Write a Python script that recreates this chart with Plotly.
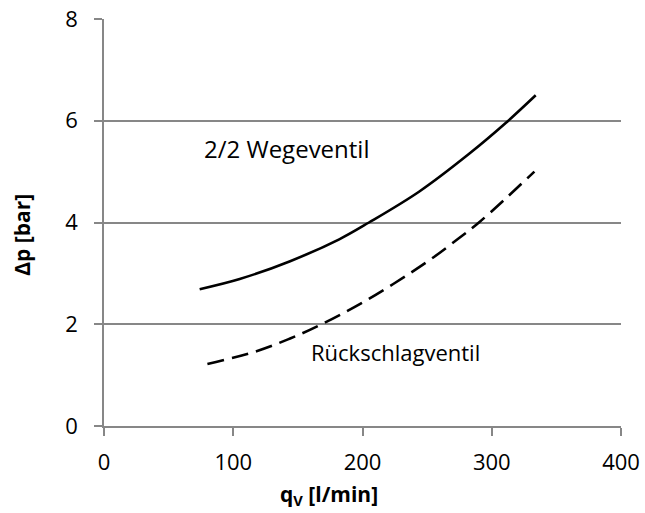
import plotly.graph_objects as go

# Data
q_wegeventil = [74, 105, 144, 182, 205, 244, 283, 311, 334]
dp_wegeventil = [2.69, 2.89, 3.24, 3.67, 4.00, 4.61, 5.36, 5.96, 6.50]

q_rueckschlag = [80, 118, 144, 166, 203, 249, 274, 291, 333]
dp_rueckschlag = [1.22, 1.47, 1.72, 1.97, 2.47, 3.21, 3.68, 4.02, 5.00]

x_ticks = [0, 100, 200, 300, 400]
y_ticks = [0, 2, 4, 6, 8]

label_wege = "2/2 Wegeventil"
label_rueck = "Rückschlagventil"
x_title = "<b>q<sub>V</sub> [l/min]</b>"
y_title = "<b>Δp [bar]</b>"

FONT = "Open Sans"
GRAY = "#878787"

fig = go.Figure()
fig.add_trace(go.Scatter(
    x=q_wegeventil, y=dp_wegeventil, mode="lines",
    line=dict(color="black", width=2.6, shape="spline", smoothing=1.0),
    showlegend=False, hoverinfo="skip"))
fig.add_trace(go.Scatter(
    x=q_rueckschlag, y=dp_rueckschlag, mode="lines",
    line=dict(color="black", width=2.6, shape="spline", smoothing=1.0, dash="17px,8px"),
    showlegend=False, hoverinfo="skip"))

fig.add_annotation(x=75.5, y=5.45, xref="x", yref="y", text=label_wege,
                   showarrow=False, xanchor="left", yanchor="middle",
                   font=dict(family=FONT, size=24, color="black"))
fig.add_annotation(x=158.5, y=1.46, xref="x", yref="y", text=label_rueck,
                   showarrow=False, xanchor="left", yanchor="middle",
                   font=dict(family=FONT, size=22, color="black"))

fig.add_annotation(x=(329 - 104) / 517, y=(426 - 495) / 407, xref="paper", yref="paper",
                   text=x_title, showarrow=False, xanchor="center", yanchor="middle",
                   font=dict(family=FONT, size=21, color="black"))
fig.add_annotation(x=(21.7 - 104) / 517, y=(426 - 235) / 407, xref="paper", yref="paper",
                   text=y_title, showarrow=False, textangle=-90,
                   xanchor="center", yanchor="middle",
                   font=dict(family=FONT, size=21, color="black"))

fig.update_xaxes(range=[0, 400], tickvals=x_ticks, ticktext=[str(v) for v in x_ticks],
                 showgrid=False, zeroline=False, showline=True, linecolor=GRAY, linewidth=1.5,
                 ticks="outside", ticklen=8, tickcolor=GRAY, tickwidth=1.5,
                 ticklabelstandoff=8, automargin=False,
                 tickfont=dict(family=FONT, size=22, color="black"), fixedrange=True)
fig.update_yaxes(range=[0, 8], tickvals=y_ticks, ticktext=[str(v) for v in y_ticks],
                 showgrid=True, gridcolor=GRAY, gridwidth=1.5, zeroline=False,
                 showline=True, linecolor=GRAY, linewidth=1.5,
                 ticks="outside", ticklen=8, tickcolor=GRAY, tickwidth=1.5,
                 ticklabelstandoff=12, automargin=False,
                 tickfont=dict(family=FONT, size=22, color="black"), fixedrange=True)

fig.update_layout(
    width=645, height=513,
    margin=dict(l=104, r=24, t=19, b=87, pad=0, autoexpand=False),
    plot_bgcolor="white", paper_bgcolor="white",
    font=dict(family=FONT, color="black"),
)

fig.write_html("out.html", config={"displayModeBar": False},
               post_script="document.body.style.margin='0';document.body.style.overflow='hidden';")
